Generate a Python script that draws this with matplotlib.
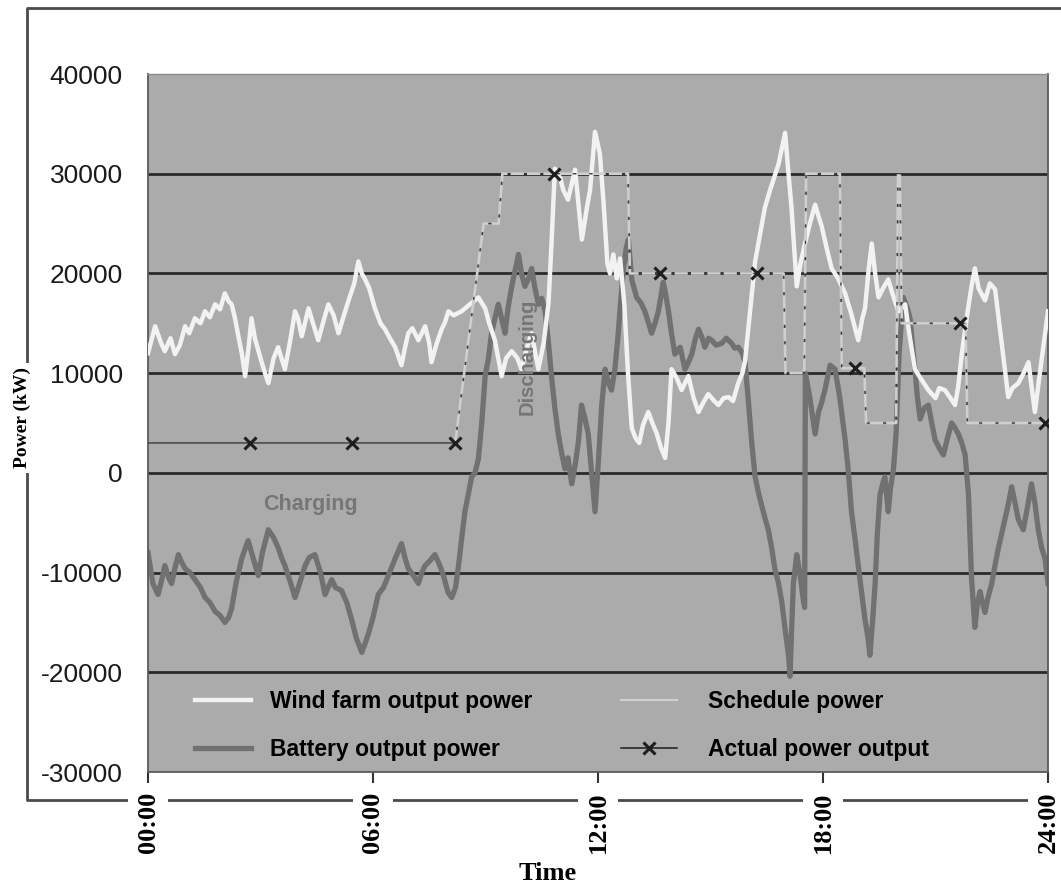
import matplotlib
matplotlib.use("Agg")
import matplotlib.pyplot as plt
from matplotlib.lines import Line2D
import numpy as np

# ---------------- data ----------------
wind_hours = [0.0, 0.19, 0.35, 0.45, 0.6, 0.72, 0.85, 0.99, 1.1, 1.25, 1.4, 1.52, 1.65, 1.79, 1.92,
              2.05, 2.15, 2.23, 2.32, 2.41, 2.5, 2.59, 2.68, 2.76, 2.85, 3.03, 3.12, 3.21, 3.35, 3.47,
              3.56, 3.65, 3.78, 3.92, 4.0, 4.1, 4.28, 4.4, 4.54, 4.7, 4.81, 4.95, 5.08, 5.2, 5.34,
              5.5, 5.61, 5.7, 5.79, 5.9, 6.05, 6.2, 6.32, 6.45, 6.59, 6.76, 6.85, 6.94, 7.05, 7.21,
              7.39, 7.5, 7.56, 7.7, 7.83, 7.92, 8.01, 8.15, 8.36, 8.55, 8.81, 8.99, 9.1, 9.25, 9.43,
              9.55, 9.7, 9.85, 9.96, 10.1, 10.23, 10.41, 10.55, 10.68, 10.76, 10.85, 11.0, 11.07, 11.2,
              11.39, 11.57, 11.7, 11.79, 11.92, 12.05, 12.15, 12.25, 12.32, 12.41, 12.5, 12.59, 12.7,
              12.8, 12.9, 13.0, 13.1, 13.2, 13.34, 13.45, 13.56, 13.68, 13.79, 13.88, 13.96, 14.1,
              14.23, 14.41, 14.55, 14.68, 14.8, 14.94, 15.1, 15.21, 15.35, 15.48, 15.6, 15.74, 15.85,
              15.92, 16.05, 16.19, 16.3, 16.45, 16.6, 16.81, 16.99, 17.08, 17.16, 17.3, 17.4, 17.52,
              17.65, 17.79, 17.9, 17.96, 18.1, 18.23, 18.4, 18.59, 18.75, 18.94, 19.05, 19.12, 19.22,
              19.3, 19.39, 19.48, 19.6, 19.74, 19.85, 20.01, 20.19, 20.3, 20.45, 20.6, 20.81, 21.0,
              21.1, 21.25, 21.4, 21.52, 21.6, 21.7, 21.85, 21.96, 22.05, 22.15, 22.32, 22.45, 22.59,
              22.75, 22.94, 23.05, 23.21, 23.35, 23.48, 23.55, 23.65, 23.8, 24.0]
wind_kw = [12000, 14700, 13000, 12200, 13500, 11900, 12800, 14700, 14000, 15500, 15000, 16200, 15600,
           16900, 16400, 18000, 17200, 16900, 15500, 13700, 12000, 9700, 12500, 15500, 13500, 11100,
           10000, 9000, 11500, 12600, 11500, 10400, 13000, 16200, 15500, 13700, 16500, 15000, 13300,
           15500, 16900, 15800, 14000, 15500, 17200, 19000, 21200, 20000, 19400, 18500, 16500, 15000,
           14400, 13500, 12600, 10800, 12500, 14000, 14500, 13300, 14700, 13000, 11100, 13000, 14400,
           15100, 16200, 15800, 16200, 16800, 17600, 16500, 15000, 13300, 9700, 11500, 12200, 11500,
           10400, 12500, 14000, 10400, 13000, 17000, 23000, 30500, 29500, 28400, 27400, 30400, 23400,
           26500, 28400, 34200, 32000, 27000, 21000, 20000, 21900, 19500, 21500, 17000, 10000, 4500,
           3500, 3000, 4800, 6100, 5000, 4000, 2500, 1500, 5000, 10400, 9500, 8300, 9700, 7500, 6100,
           7000, 7900, 7200, 6800, 7500, 7600, 7200, 9000, 10000, 11200, 16000, 21200, 23500, 26600,
           28500, 30900, 34100, 30000, 26600, 18700, 21000, 23000, 25000, 26900, 25500, 24800, 22500,
           20500, 19500, 18000, 16000, 13300, 15500, 16500, 20500, 23000, 20000, 17600, 18500, 19400,
           18000, 16200, 16900, 14000, 10400, 9500, 8300, 7500, 8500, 8300, 7500, 6800, 8500, 11900,
           16000, 18700, 20500, 18500, 17300, 19000, 18400, 13500, 7600, 8500, 9000, 10000, 11100,
           9000, 6100, 10500, 16200]

battery_hours = [0.0, 0.13, 0.27, 0.38, 0.45, 0.55, 0.63, 0.72, 0.81, 0.9, 0.99, 1.12, 1.25, 1.4,
                 1.52, 1.65, 1.79, 1.92, 2.05, 2.15, 2.23, 2.35, 2.5, 2.6, 2.67, 2.8, 2.94, 3.05,
                 3.21, 3.35, 3.47, 3.56, 3.65, 3.8, 3.92, 4.05, 4.19, 4.3, 4.45, 4.6, 4.72, 4.9,
                 5.0, 5.16, 5.3, 5.43, 5.55, 5.7, 5.8, 5.88, 6.0, 6.14, 6.28, 6.41, 6.6, 6.76, 6.85,
                 6.94, 7.08, 7.21, 7.3, 7.39, 7.52, 7.65, 7.75, 7.88, 8.0, 8.1, 8.2, 8.28, 8.45,
                 8.55, 8.63, 8.72, 8.81, 8.9, 8.99, 9.08, 9.16, 9.25, 9.34, 9.43, 9.52, 9.6, 9.7,
                 9.8, 9.88, 9.96, 10.05, 10.15, 10.23, 10.32, 10.41, 10.5, 10.59, 10.68, 10.76,
                 10.85, 10.94, 11.03, 11.12, 11.2, 11.3, 11.4, 11.48, 11.56, 11.65, 11.74, 11.83,
                 11.92, 12.01, 12.1, 12.19, 12.28, 12.36, 12.45, 12.54, 12.61, 12.68, 12.75, 12.81,
                 12.9, 13.03, 13.15, 13.25, 13.35, 13.43, 13.52, 13.61, 13.74, 13.8, 13.88, 13.96,
                 14.05, 14.19, 14.32, 14.4, 14.5, 14.6, 14.68, 14.78, 14.85, 14.95, 15.03, 15.15,
                 15.3, 15.42, 15.56, 15.65, 15.74, 15.85, 15.92, 16.01, 16.1, 16.19, 16.28, 16.36,
                 16.45, 16.54, 16.63, 16.72, 16.81, 16.9, 17.0, 17.08, 17.12, 17.16, 17.21, 17.3,
                 17.38, 17.48, 17.51, 17.53, 17.65, 17.79, 17.88, 17.96, 18.05, 18.19, 18.32, 18.45,
                 18.59, 18.68, 18.76, 18.85, 18.94, 19.03, 19.12, 19.2, 19.25, 19.32, 19.39, 19.45,
                 19.52, 19.6, 19.65, 19.74, 19.8, 19.88, 19.95, 20.03, 20.14, 20.25, 20.32, 20.45,
                 20.52, 20.59, 20.7, 20.81, 20.9, 20.99, 21.1, 21.21, 21.32, 21.43, 21.52, 21.61,
                 21.7, 21.79, 21.88, 21.96, 22.05, 22.12, 22.19, 22.25, 22.32, 22.4, 22.5, 22.6,
                 22.68, 22.77, 22.85, 22.95, 23.03, 23.12, 23.21, 23.34, 23.45, 23.56, 23.65, 23.74,
                 23.83, 23.92, 24.0]
battery_kw = [-8000, -11100, -12200, -10500, -9300, -10500, -11100, -9500, -8200, -9000, -9600,
              -10000, -10700, -11500, -12500, -13000, -13900, -14300, -15000, -14500, -13600,
              -11000, -8600, -7500, -6800, -8500, -10300, -8000, -5700, -6500, -7500, -8500, -9300,
              -11000, -12500, -11000, -9300, -8500, -8200, -10000, -12200, -10700, -11500, -11800,
              -13000, -14700, -16500, -18000, -17000, -16100, -14500, -12200, -11500, -10300, -8500,
              -7100, -8500, -9600, -10300, -11100, -10000, -9300, -8800, -8200, -9000, -10300,
              -12000, -12500, -11500, -9300, -3900, -2000, -400, 0, 1400, 5000, 9700, 11500, 14000,
              15500, 16900, 15500, 14000, 16500, 18700, 20500, 21900, 20000, 18700, 19500, 20500,
              18500, 16900, 17500, 16200, 13000, 9700, 6500, 3900, 2000, 400, 1500, -1100, 1000,
              3200, 6800, 5500, 3900, 0, -3900, 1100, 6800, 10400, 9000, 8300, 10400, 14000, 17500,
              20500, 22500, 23400, 19400, 17600, 17000, 16200, 15000, 14000, 15000, 16200, 19100,
              18000, 16200, 14000, 11900, 12600, 10400, 11000, 11900, 13500, 14400, 13500, 12600,
              13500, 13300, 12800, 13000, 13500, 13000, 12500, 12600, 12000, 11100, 7200, 3000,
              -400, -2000, -3200, -4500, -5700, -7500, -9700, -11000, -12900, -16000, -18300,
              -20400, -16000, -11100, -8200, -10000, -12900, -13500, 10000, 7500, 3900, 6100, 7000,
              8300, 10800, 10400, 7500, 3300, 0, -3900, -6500, -9300, -12000, -14700, -16500,
              -18300, -15000, -11100, -6000, -2200, -1000, -400, -3900, -1500, 400, 4000, 12000,
              17600, 16500, 15500, 10400, 7500, 5400, 6500, 6800, 5000, 3300, 2500, 1800, 3500,
              5000, 4500, 3900, 3000, 1800, -2200, -10500, -15500, -13000, -11900, -13000, -14000,
              -12500, -11100, -9000, -7500, -6000, -4700, -3000, -1400, -3000, -4700, -5700, -3500,
              -1100, -3000, -5700, -7500, -8600, -11100]

schedule_hours = [8.19, 8.95, 9.35, 9.45, 12.8, 12.85, 16.95, 17.0, 17.5, 17.55, 18.45, 18.5,
                  19.1, 19.15, 19.95, 20.0, 20.05, 20.1, 21.8, 21.85, 24.0]
schedule_kw = [3000, 25000, 25000, 30000, 30000, 20000, 20000, 10000, 10000, 30000, 30000, 10500,
               10500, 5000, 5000, 30000, 30000, 15000, 15000, 5000, 5000]

actual_hours = [0.0, 2.72, 5.44, 8.19, 8.95, 9.35, 9.45, 10.83, 12.8, 12.85, 13.65, 16.24, 16.95,
                17.0, 17.5, 17.55, 18.45, 18.5, 18.85, 19.1, 19.15, 19.95, 20.0, 20.05, 20.1,
                21.65, 21.8, 21.85, 23.92, 24.0]
actual_kw = [3000, 3000, 3000, 3000, 25000, 25000, 30000, 30000, 30000, 20000, 20000, 20000, 20000,
             10000, 10000, 30000, 30000, 10500, 10500, 10500, 5000, 5000, 30000, 30000, 15000,
             15000, 15000, 5000, 5000, 5000]
actual_marker_hours = [2.72, 5.44, 8.19, 10.83, 13.65, 16.24, 18.85, 21.65, 23.92]

x_ticks = [0, 6, 12, 18, 24]
x_ticklabels = ["00:00", "06:00", "12:00", "18:00", "24:00"]
y_ticks = [-30000, -20000, -10000, 0, 10000, 20000, 30000, 40000]
y_ticklabels = ["-30000", "-20000", "-10000", "0", "10000", "20000", "30000", "40000"]

series_labels = ["Wind farm output power", "Battery output power",
                 "Schedule power", "Actual power output"]

# ---------------- figure ----------------
W, H = 1061, 886
fig = plt.figure(figsize=(W / 100, H / 100), dpi=100)
fig.patch.set_facecolor("white")

SANS = "Liberation Sans"
SERIF = "Liberation Serif"

WIND_C = "#f2f2f2"
BATT_C = "#717171"
SCHED_C = "#cfcfcf"
ACT_C = "#1e1e1e"

ax = fig.add_axes([148 / W, 1 - 772 / H, 900 / W, 698 / H])
ax.set_facecolor("#ababab")
ax.set_xlim(0, 24)
ax.set_ylim(-30000, 40000)

for v in y_ticks[1:-1]:
    ax.axhline(v, color="#2a2a2a", lw=2.0, zorder=1)

ax.plot(battery_hours, battery_kw, color=BATT_C, lw=3.8, zorder=2, solid_joinstyle="round")
ax.plot(wind_hours, wind_kw, color=WIND_C, lw=3.2, zorder=3, solid_joinstyle="round")
ax.plot(actual_hours, actual_kw, color="#3a3a3a", lw=1.0, zorder=4)
ax.plot(schedule_hours, schedule_kw, color=SCHED_C, lw=1.9, zorder=5,
        linestyle=(0, (5, 1.2)))
mk_idx = [actual_hours.index(h) for h in actual_marker_hours]
ax.plot(np.array(actual_hours)[mk_idx], np.array(actual_kw)[mk_idx], linestyle="none",
        marker="x", color=ACT_C, ms=8, mew=2.2, zorder=6)

# spines
for s in ["left", "bottom", "right"]:
    ax.spines[s].set_color("#5a5a5a")
    ax.spines[s].set_linewidth(1.3)
ax.spines["top"].set_color("#8a8a8a")
ax.spines["top"].set_linewidth(1.0)

ax.set_yticks(y_ticks)
ax.set_yticklabels(y_ticklabels, fontfamily=SANS, fontsize=19, color="#1a1a1a")
ax.tick_params(axis="y", length=0, pad=18)
ax.set_xticks(x_ticks)
ax.set_xticklabels(x_ticklabels, fontfamily=SERIF, fontweight="bold", fontsize=19,
                   rotation=90, va="top", ha="center")
ax.tick_params(axis="x", direction="out", length=9, width=1.5, color="#333333", pad=5)
for lbl in ax.get_xticklabels():
    lbl.set_bbox(dict(facecolor="white", edgecolor="none", pad=6))

# annotations
ax.text(4.32, -3200, "Charging", fontfamily=SANS, fontweight="bold", fontsize=15.5,
        color="#767676", ha="center", va="center", zorder=3)
ax.text(10.1, 11600, "Discharging", fontfamily=SANS, fontweight="bold", fontsize=14.5,
        color="#767676", ha="center", va="center", rotation=90, zorder=3)

# legend (two columns placed separately, as in the original)
handles = [
    Line2D([], [], color=WIND_C, lw=3.2),
    Line2D([], [], color=BATT_C, lw=3.8),
    Line2D([], [], color=SCHED_C, lw=1.6),
    Line2D([], [], color=ACT_C, lw=1.1, marker="x", ms=8, mew=2.2),
]
leg_kw = dict(loc="lower left", frameon=False,
              prop={"family": SANS, "weight": "bold", "size": 16.5},
              handlelength=2.45, labelspacing=1.1, borderpad=0, borderaxespad=0)
leg1 = ax.legend(handles[:2], series_labels[:2], bbox_to_anchor=(47 / 900, 0.016),
                 handletextpad=0.83, **leg_kw)
ax.add_artist(leg1)
ax.legend(handles[2:], series_labels[2:], bbox_to_anchor=(473 / 900, 0.016),
          handletextpad=1.35, **leg_kw)

# axis titles
fig.text(22 / W, 1 - 418 / H, "Power (kW)", rotation=90, ha="center", va="center",
         fontfamily=SERIF, fontweight="bold", fontsize=14,
         bbox=dict(facecolor="white", edgecolor="none", pad=3))
fig.text(548 / W, 1 - 873 / H, "Time", ha="center", va="center",
         fontfamily=SERIF, fontweight="bold", fontsize=19)

# outer frame
frame = Line2D([1.0, 27 / W, 27 / W, 1.0], [1 - 8 / H, 1 - 8 / H, 1 - 800 / H, 1 - 800 / H],
               transform=fig.transFigure, color="#4a4a4a", lw=2.0, zorder=-1)
fig.add_artist(frame)

fig.savefig("out.png", dpi=100, facecolor="white")
